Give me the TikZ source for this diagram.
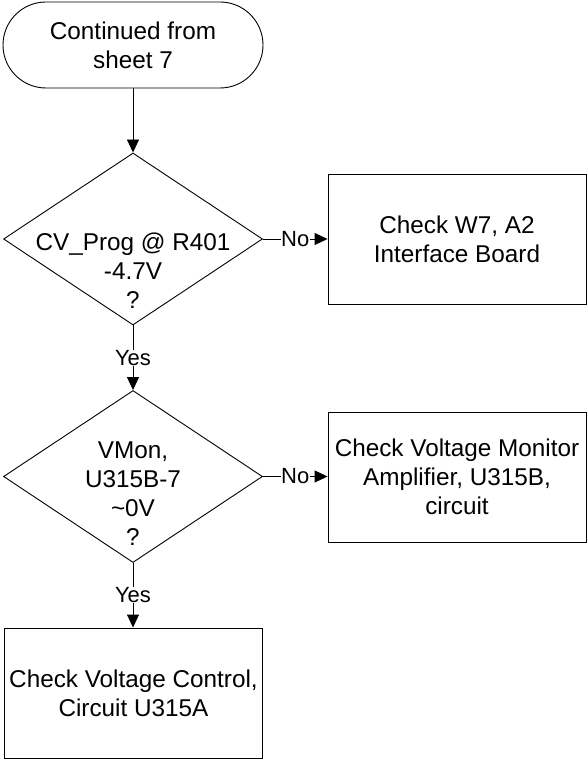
\documentclass[tikz,border=0pt]{standalone}
\usepackage{fontspec}
\setmainfont{Liberation Sans}
\usetikzlibrary{shapes.geometric,arrows.meta}
\begin{document}
\begin{tikzpicture}[x=1pt,y=-1pt,
  every node/.style={font=\fontsize{24.3}{29}\selectfont},
  box/.style={draw, line width=0.9pt, minimum width=258pt, minimum height=130pt, align=center, inner sep=0pt},
  term/.style={draw, line width=0.9pt, rounded corners=43pt, minimum width=260pt, minimum height=86pt, align=center, inner sep=0pt},
  dec/.style={draw, diamond, line width=0.9pt, minimum width=259pt, minimum height=172pt, inner sep=0pt},
  txt/.style={align=center, inner sep=0pt},
  lbl/.style={fill=white, inner sep=0.5pt, font=\fontsize{22}{24}\selectfont},
  conn/.style={line width=0.9pt, -{Triangle[length=13pt,width=12pt]}},
]
\useasboundingbox (0,0) rectangle (587,759);
\node[term] (start) at (133,45) {Continued from\\sheet 7};
\node[dec] (d1) at (133,239) {};
\node[txt] (d1t) at (133,271) {CV\_Prog @ R401\\-4.7V\\?};
\node[box] (b1) at (457,239) {Check W7, A2\\Interface Board};
\node[dec] (d2) at (133,476.5) {};
\node[txt] (d2t) at (133,494) {VMon,\\U315B-7\\\textasciitilde 0V\\?};
\node[box] (b2) at (457,477) {Check Voltage Monitor\\Amplifier, U315B,\\circuit};
\node[box] (b3) at (133.5,693) {Check Voltage Control,\\Circuit U315A};
\draw[conn] (start) -- (d1);
\draw[conn] (d1.east) -- node[lbl]{No} (d1.east -| b1.west);
\draw[conn] (d1.south) -- node[lbl]{Yes} (d2.north);
\draw[conn] (d2.east) -- node[lbl]{No} (d2.east -| b2.west);
\draw[conn] (d2.south) -- node[lbl]{Yes} (d2.south |- b3.north);
\end{tikzpicture}
\end{document}
